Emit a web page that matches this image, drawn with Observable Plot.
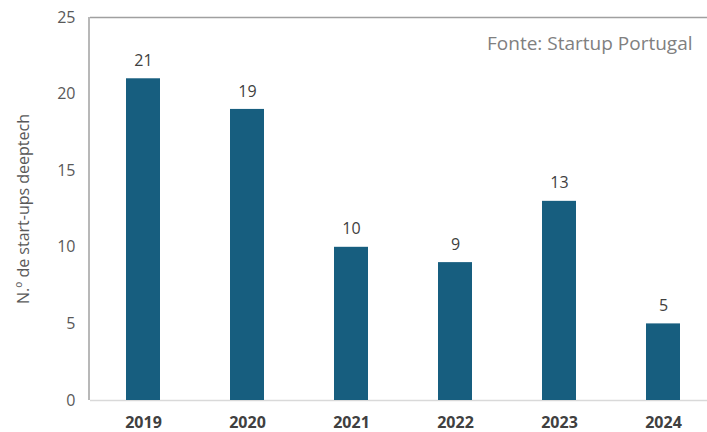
<!DOCTYPE html>
<html><head><meta charset="utf-8">
<script src="https://cdn.jsdelivr.net/npm/d3@7"></script>
<script src="https://cdn.jsdelivr.net/npm/@observablehq/plot@0.6"></script>
<style>body{margin:0;background:#fff}</style>
</head><body><div id="chart"></div>
<script>
const years = ["2019","2020","2021","2022","2023","2024"];
const counts = [21,19,10,9,13,5];
const yTicks = [0,5,10,15,20,25];
const yLabel = "N.º de start-ups deeptech";
const sourceNote = "Fonte: Startup Portugal";

const data = years.map((y,i)=>({year:y,value:counts[i]}));
const font = "'Open Sans', 'Liberation Sans', sans-serif";

const chart = Plot.plot({
  width: 707, height: 432,
  marginLeft: 90, marginRight: -9, marginTop: 17, marginBottom: 32,
  style: {fontFamily: font, background: "#fff"},
  x: {domain: years, paddingInner: 0.67, paddingOuter: 0.335, label: null, tickSize: 0, tickPadding: 0},
  y: {domain: [0,25], ticks: yTicks, label: null, tickSize: 0},
  marks: [
    Plot.ruleY([25], {stroke: "#a0a0a0", strokeWidth: 1.5}),
    Plot.ruleY([0], {stroke: "#d9d9d9", strokeWidth: 1.5}),
    Plot.barY(data, {x: "year", y: "value", fill: "#175e7f"}),
    Plot.text(data, {x: "year", y: "value", text: d => String(d.value), dy: -18, fontSize: 16, fill: "#404040"}),
    Plot.axisY({ticks: yTicks, tickSize: 0, tickPadding: 15, fontSize: 16, fill: "#595959", label: null}),
    Plot.axisX({tickSize: 0, tickPadding: 0, dy: 22, fontSize: 16, fontWeight: "bold", fill: "#404040", label: null, lineAnchor: "middle"}),
    Plot.text([yLabel], {frameAnchor: "left", textAnchor: "middle", dx: -67, rotate: -90, fontSize: 16, fill: "#595959"}),
    Plot.text([sourceNote], {frameAnchor: "top-right", dx: -24, dy: 26, fontSize: 19, fill: "#808080", lineAnchor: "middle"})
  ]
});
const svg = d3.select(chart);
svg.append("line").attr("x1",89).attr("x2",89).attr("y1",17).attr("y2",400).attr("stroke","#a0a0a0").attr("stroke-width",1.5);
document.getElementById("chart").appendChild(chart);
</script>
</body></html>
